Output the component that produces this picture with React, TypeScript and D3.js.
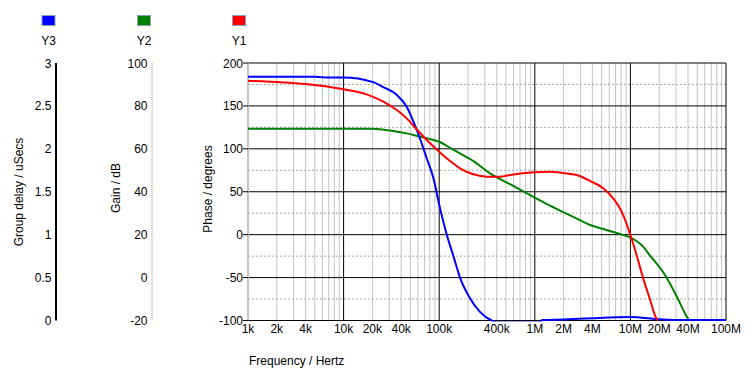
import React from 'react';
import * as d3 from 'd3';

// Y1 - phase (degrees)
const phaseFreq = [1e3, 4e3, 10e3, 17.4e3, 26e3, 36e3, 45.7e3, 57.7e3, 74e3, 100e3, 130e3, 165e3, 228e3, 314e3, 432e3, 550e3, 1e6, 1.44e6, 1.97e6, 2.75e6, 3.8e6, 5.2e6, 6.6e6, 8.1e6, 10e6, 11.6e6, 13.6e6, 15.9e6, 18.6e6, 19.2e6];
const phaseVals = [179.4, 175.5, 169.4, 163.5, 154.9, 145.2, 135.5, 123.1, 110.3, 96.7, 85.8, 77.3, 70.3, 67.5, 67.5, 69.5, 72.7, 73.4, 71.8, 69.5, 62.5, 54, 42.4, 26.8, -0.4, -23.7, -50.9, -74.1, -97.4, -100];

// Y2 - gain (dB)
const gainFreq = [1e3, 20e3, 33e3, 45.7e3, 63e3, 80e3, 100e3, 130e3, 165e3, 228e3, 340e3, 550e3, 1e6, 1.44e6, 2.5e6, 3.8e6, 5.6e6, 8.5e6, 10e6, 13.6e6, 15.9e6, 21.9e6, 30e6, 38e6, 41e6];
const gainVals = [69.4, 69.4, 68.3, 67.2, 65.7, 64.6, 63.3, 60.5, 57.9, 54.3, 48.6, 43.5, 37.2, 33.5, 28.4, 24.5, 22.2, 19.8, 18.6, 14.4, 10.5, 2.7, -8.1, -17.4, -20];

// Y3 - group delay (uSecs)
const delayFreq = [1e3, 5e3, 7e3, 10e3, 20e3, 26e3, 35.9e3, 45.7e3, 53.6e3, 63e3, 74e3, 86.9e3, 100e3, 120e3, 140e3, 165e3, 210e3, 267e3, 354e3, 400e3, 600e3, 1.1e6, 1.2e6, 2e6, 4e6, 10e6, 20e6, 40e6, 100e6];
const delayVals = [2.84, 2.84, 2.83, 2.83, 2.78, 2.72, 2.63, 2.49, 2.32, 2.12, 1.89, 1.66, 1.35, 1.0, 0.76, 0.5, 0.26, 0.1, 0, -0.02, -0.02, -0.02, 0.005, 0.012, 0.027, 0.04, 0.015, 0.005, 0.005];

const freqTicks = [1e3, 2e3, 4e3, 10e3, 20e3, 40e3, 100e3, 400e3, 1e6, 2e6, 4e6, 10e6, 20e6, 40e6, 100e6];
const phaseTicks = [200, 150, 100, 50, 0, -50, -100];
const phaseMinor = [175, 125, 75, 25, -25, -75];
const gainTicks = [100, 80, 60, 40, 20, 0, -20];
const delayTicks = [3, 2.5, 2, 1.5, 1, 0.5, 0];

const legend = [
  { name: 'Y3', color: '#0000ff', x: 48.5 },
  { name: 'Y2', color: '#008000', x: 144 },
  { name: 'Y1', color: '#ff0000', x: 239 },
];

const W = 755;
const H = 385;
const L = 248, R = 726, T = 63, B = 320.5;
const FONT = '"Liberation Sans", Arial, sans-serif';

function fmtFreq(f: number) {
  if (f >= 1e6) return `${f / 1e6}M`;
  return `${f / 1e3}k`;
}

export default function App() {
  const x = d3.scaleLog().domain([1e3, 1e8]).range([L, R]);
  const yPhase = d3.scaleLinear().domain([-100, 200]).range([B, T]);
  const yGain = d3.scaleLinear().domain([-20, 100]).range([B, T]);
  const yDelay = d3.scaleLinear().domain([0, 3]).range([B, T]);

  const mk = (fs: number[], vs: number[], y: d3.ScaleLinear<number, number>) =>
    d3.line<number>().x((_, i) => x(fs[i])).y((v) => y(v)).curve(d3.curveMonotoneX)(vs) ?? '';

  const minorFreqs: number[] = [];
  for (let d = 1e3; d < 1e8; d *= 10) for (let k = 2; k <= 9; k++) minorFreqs.push(d * k);
  const decades = [1e4, 1e5, 1e6, 1e7, 1e8];

  return (
    <svg width={W} height={H} style={{ position: 'absolute', left: 0, top: 0, background: '#fff' }} fontFamily={FONT} fontSize={12}>
      <defs>
        <clipPath id="plot">
          <rect x={L} y={T - 1} width={R - L} height={B - T + 2} />
        </clipPath>
      </defs>

      {/* legend */}
      {legend.map((l) => (
        <g key={l.name}>
          <rect x={l.x - 6.5} y={15.5} width={13} height={10} fill={l.color} stroke="#8aa0b8" strokeWidth={1} />
          <text x={l.x} y={45} textAnchor="middle" fill="#000">{l.name}</text>
        </g>
      ))}

      {/* grid */}
      {minorFreqs.map((f) => (
        <line key={'vm' + f} x1={x(f)} x2={x(f)} y1={T} y2={B} stroke="#c4c4c4" strokeWidth={1} />
      ))}
      {phaseMinor.map((p) => (
        <line key={'hm' + p} x1={L} x2={R} y1={yPhase(p)} y2={yPhase(p)} stroke="#a8a8a8" strokeWidth={1} strokeDasharray="2,2" />
      ))}
      {phaseTicks.map((p) => (
        <line key={'hM' + p} x1={L} x2={R} y1={yPhase(p)} y2={yPhase(p)} stroke="#000" strokeWidth={1} />
      ))}
      {decades.map((f) => (
        <line key={'vM' + f} x1={x(f)} x2={x(f)} y1={T} y2={B} stroke="#000" strokeWidth={1} />
      ))}
      <line x1={L} x2={L} y1={T} y2={B} stroke="#b0b0b0" strokeWidth={1.5} />

      {/* curves */}
      <g clipPath="url(#plot)" fill="none" strokeWidth={2}>
        <path d={mk(gainFreq, gainVals, yGain)} stroke="#008000" />
        <path d={mk(delayFreq, delayVals, yDelay)} stroke="#0000ff" />
        <path d={mk(phaseFreq, phaseVals, yPhase)} stroke="#ff0000" />
      </g>

      {/* phase axis */}
      {phaseTicks.map((p) => (
        <g key={'pt' + p}>
          <line x1={L - 5} x2={L} y1={yPhase(p)} y2={yPhase(p)} stroke="#000" />
          <text x={L - 5} y={yPhase(p) + 4.5} textAnchor="end">{p}</text>
        </g>
      ))}
      <text transform={`translate(212,189) rotate(-90)`} textAnchor="middle">Phase / degrees</text>

      {/* gain axis */}
      <line x1={152} x2={152} y1={T} y2={B} stroke="#a0a0a0" strokeWidth={1} strokeDasharray="1,1" />
      {gainTicks.map((g) => (
        <text key={'gt' + g} x={147.5} y={yGain(g) + 4.5} textAnchor="end">{g}</text>
      ))}
      <text transform={`translate(120,188) rotate(-90)`} textAnchor="middle">Gain / dB</text>

      {/* group delay axis */}
      <line x1={56} x2={56} y1={T} y2={B} stroke="#000" strokeWidth={2} />
      {delayTicks.map((g) => (
        <text key={'dt' + g} x={51.5} y={yDelay(g) + 4.5} textAnchor="end">{g}</text>
      ))}
      <text transform={`translate(23,192) rotate(-90)`} textAnchor="middle">Group delay / uSecs</text>

      {/* frequency axis */}
      {freqTicks.map((f) => (
        <text key={'ft' + f} x={x(f)} y={333} textAnchor="middle">{fmtFreq(f)}</text>
      ))}
      <text x={249} y={365}>Frequency / Hertz</text>
    </svg>
  );
}
